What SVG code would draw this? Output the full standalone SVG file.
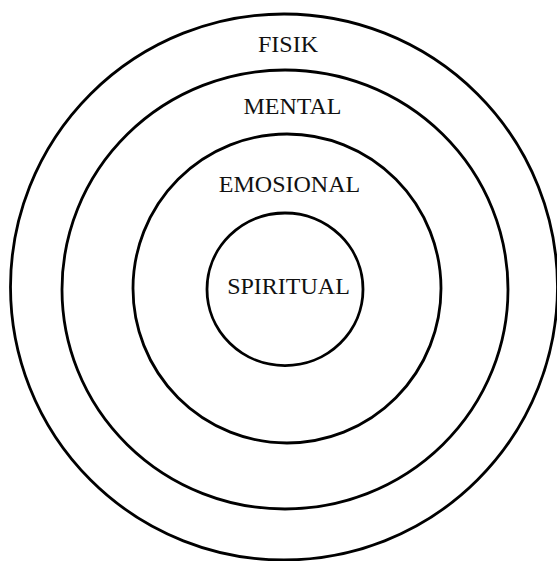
<svg xmlns="http://www.w3.org/2000/svg" width="557" height="561" viewBox="0 0 557 561">
<style>
.ring{fill:none;stroke:#000;stroke-width:2.8}
.lbl{font-family:"Liberation Serif","Times New Roman",serif;font-size:24px;fill:#111;text-anchor:middle}
</style>
<rect width="557" height="561" fill="#fff"/>
<g id="fisik">
<ellipse class="ring" cx="284" cy="287" rx="273.5" ry="273"/>
<text class="lbl" x="288" y="52">FISIK</text>
</g>
<g id="mental">
<ellipse class="ring" cx="285" cy="289.5" rx="223" ry="219.5"/>
<text class="lbl" x="292.5" y="114">MENTAL</text>
</g>
<g id="emosional">
<ellipse class="ring" cx="287" cy="288.5" rx="154" ry="154.5"/>
<text class="lbl" x="289.5" y="192">EMOSIONAL</text>
</g>
<g id="spiritual">
<ellipse class="ring" cx="285" cy="289.3" rx="78" ry="76.3"/>
<text class="lbl" x="288.5" y="294" fill="#222">SPIRITUAL</text>
</g>
<g id="connectors"/>
</svg>
